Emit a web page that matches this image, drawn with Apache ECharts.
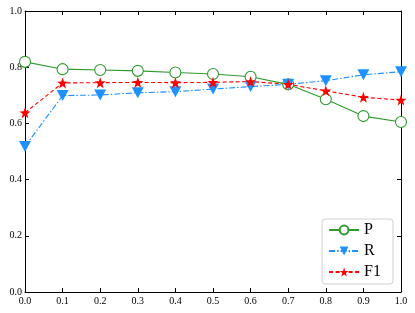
<!DOCTYPE html>
<html><head><meta charset="utf-8">
<script src="https://cdn.jsdelivr.net/npm/echarts@6/dist/echarts.min.js"></script>
<style>html,body{margin:0;padding:0;background:#fff}#c{width:415px;height:313px}</style>
</head><body><div id="c"></div>
<script>
var categories = [0.0, 0.1, 0.2, 0.3, 0.4, 0.5, 0.6, 0.7, 0.8, 0.9, 1.0];
var pValues  = [0.819, 0.793, 0.790, 0.787, 0.781, 0.776, 0.766, 0.739, 0.686, 0.626, 0.605];
var rValues  = [0.518, 0.699, 0.701, 0.709, 0.713, 0.722, 0.731, 0.739, 0.752, 0.773, 0.784];
var f1Values = [0.638, 0.744, 0.745, 0.746, 0.745, 0.746, 0.749, 0.739, 0.716, 0.693, 0.683];
var seriesNames = ['P', 'R', 'F1'];

function pairs(v){ return categories.map(function(x,i){ return [x, v[i]]; }); }
var star = 'path://M0,-10L2.35,-3.24L9.51,-3.09L3.8,1.24L5.88,8.09L0,4L-5.88,8.09L-3.8,1.24L-9.51,-3.09L-2.35,-3.24Z';
var font = 'Liberation Serif';
var axisCommon = {
  min: 0, max: 1, interval: 0.1,
  axisLine: {show: true, onZero: false, lineStyle: {color: '#000', width: 1}},
  axisTick: {show: true, inside: true, length: 4, lineStyle: {color: '#000'}},
  splitLine: {show: false}
};
var chart = echarts.init(document.getElementById('c'));
chart.setOption({
  animation: false,
  grid: {left: 25, right: 14, top: 11, bottom: 21, containLabel: false},
  xAxis: [
    Object.assign({type: 'value', position: 'bottom',
      axisLabel: {color: '#000', fontFamily: font, fontSize: 10, margin: 4,
        formatter: function(v){ return v.toFixed(1); }}}, axisCommon),
    Object.assign({type: 'value', position: 'top', axisLabel: {show: false}}, axisCommon)
  ],
  yAxis: [
    Object.assign({}, axisCommon, {type: 'value', position: 'left', interval: 0.2,
      axisLabel: {color: '#000', fontFamily: font, fontSize: 10, margin: 3,
        formatter: function(v){ return v.toFixed(1); }}}),
    Object.assign({}, axisCommon, {type: 'value', position: 'right', interval: 0.2, axisLabel: {show: false}})
  ],
  legend: {
    orient: 'vertical', right: 22, bottom: 29,
    itemWidth: 30, itemHeight: 11, itemGap: 5,
    padding: [3, 12, 4, 6],
    backgroundColor: '#fff', borderColor: '#d0d0d0', borderWidth: 1, borderRadius: 3,
    textStyle: {fontFamily: font, fontSize: 16, color: '#000'},
    data: seriesNames
  },
  series: [
    {name: seriesNames[0], type: 'line', data: pairs(pValues), symbol: 'circle', symbolSize: 11,
      color: '#2e9a2e', lineStyle: {color: '#2e9a2e', width: 1.1, type: 'solid'},
      itemStyle: {color: '#fff', borderColor: '#2e9a2e', borderWidth: 1.1}},
    {name: seriesNames[1], type: 'line', data: pairs(rValues), symbol: 'triangle', symbolRotate: 180, symbolSize: [12, 11],
      color: '#1e90ff', lineStyle: {color: '#1e90ff', width: 1.1, type: [6, 2, 1.5, 2]},
      itemStyle: {color: '#1e90ff'}},
    {name: seriesNames[2], type: 'line', data: pairs(f1Values), symbol: star, symbolSize: 11,
      color: '#ff0000', lineStyle: {color: '#ff0000', width: 1.1, type: [4, 2.5]},
      itemStyle: {color: '#ff0000'}}
  ]
});
</script></body></html>
